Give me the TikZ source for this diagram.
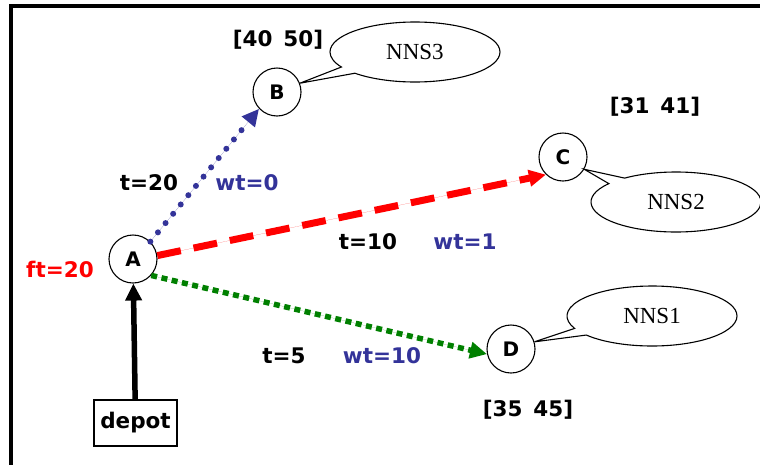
\documentclass[tikz,border=0pt]{standalone}
\usepackage{fontspec}
\setmainfont{DejaVu Sans}
\newfontfamily\nnsfont{Liberation Serif}
\usetikzlibrary{arrows.meta,shapes.callouts}
\definecolor{wtblue}{RGB}{51,51,153}
\definecolor{pathgreen}{RGB}{0,128,0}
\definecolor{ftred}{RGB}{255,0,0}

\begin{document}
\begin{tikzpicture}[x=1pt,y=-1pt,
  city/.style={circle,draw,line width=1.1pt,minimum size=48pt,inner sep=0pt,
    font=\fontsize{20}{22}\selectfont\bfseries},
  lab/.style={inner sep=0pt,font=\fontsize{21.5}{24}\selectfont\bfseries},
  bubble/.style={ellipse callout,draw,line width=1.1pt,fill=white,
    minimum width=170pt,minimum height=60pt,inner sep=0pt,
    font=\nnsfont\fontsize{23}{25}\selectfont},
  tip/.style={-{Triangle[length=17pt,width=16pt]}},
  bluedots/.style={tip,draw=wtblue,fill=wtblue,line width=6pt,line cap=round,
    dash pattern=on 0pt off 12pt},
  reddash/.style={tip,draw=ftred,fill=ftred,line width=7pt,
    dash pattern=on 24pt off 13pt},
  greendots/.style={tip,draw=pathgreen,fill=pathgreen,line width=5.5pt,
    dash pattern=on 6pt off 4.5pt},
]
\useasboundingbox (0,0) rectangle (760,464);

% frame
\draw[line width=4pt] (11,470) -- (11,6) -- (770,6);

% customers and depot
\node[city] (A) at (133,259) {A};
\node[city] (B) at (277,92) {B};
\node[city] (C) at (563,157) {C};
\node[city] (D) at (511,349) {D};
\node[draw,line width=1.1pt,minimum width=83pt,minimum height=46pt,inner sep=0pt,
  font=\fontsize{21.5}{24}\selectfont\bfseries] (depot) at (135.5,423) {depot};

% time windows
\node[lab] (twB) at (278,40) {[40\enspace50]};
\node[lab] (twC) at (655,107) {[31\enspace41]};
\node[lab] (twD) at (528,410) {[35\enspace45]};

% callouts
\node[bubble,callout absolute pointer={(B.21)}] (nns3) at (415,52) {NNS3};
\node[bubble,callout absolute pointer={(C.-30)}] (nns2) at (676,202) {NNS2};
\node[bubble,callout absolute pointer={(D.17)}] (nns1) at (652,316) {NNS1};

% routes
\draw[tip,line width=5.5pt] (depot) -- (A);
\draw[bluedots] (A.45) -- (B.223);
\draw[reddash] (A.8) -- (C.226);
\draw[greendots] (A.-42) -- (D.192);

% edge labels
\node[lab] (tAB) at (149,183) {t=20};
\node[lab,text=wtblue] (wAB) at (247,183) {wt=0};
\node[lab] (tAC) at (368,242) {t=10};
\node[lab,text=wtblue] (wAC) at (465,242) {wt=1};
\node[lab] (tAD) at (284,356) {t=5};
\node[lab,text=wtblue] (wAD) at (382,356) {wt=10};
\node[lab,text=ftred] (ftA) at (60,269) {ft=20};
\end{tikzpicture}
\end{document}
